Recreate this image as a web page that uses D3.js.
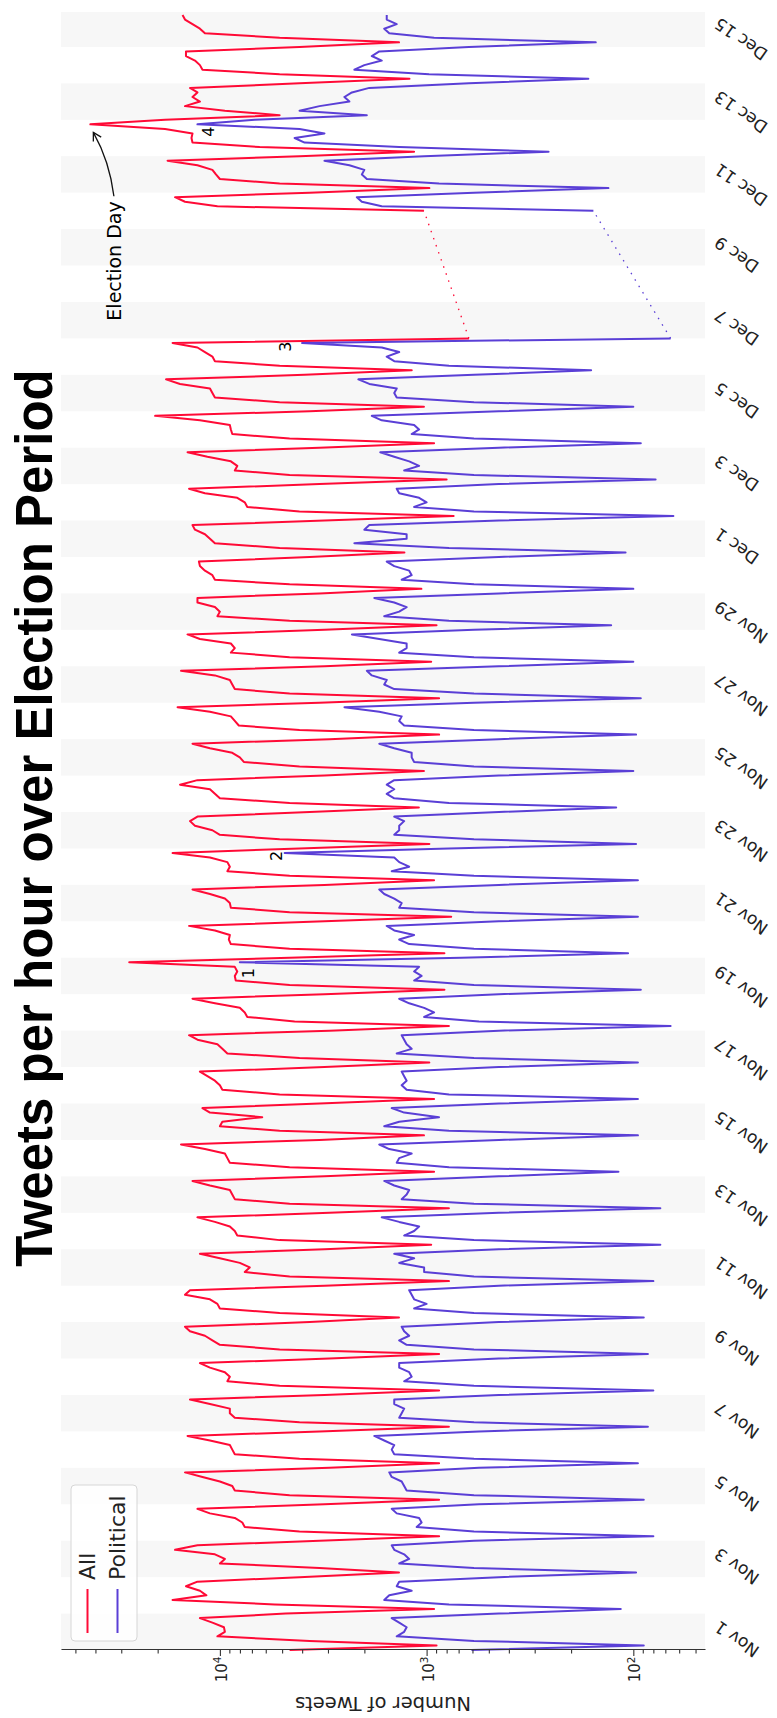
<!DOCTYPE html>
<html>
<head>
<meta charset="utf-8">
<script src="https://cdn.jsdelivr.net/npm/d3@7"></script>
<style>
  body { margin: 0; background: #fff; }
  svg { display: block; }
</style>
</head>
<body>
<svg id="chart"></svg>
<script>
// hourly tweet counts, sampled every 3 hours from Nov 1 00:00 (one row per day: 0h,3h,...,21h)
const allTweets = [
  4600, 895, 3680, 10280, 9460, 9560, 10870, 12490,      // Nov 1
  4810, 920, 5430, 16940, 11620, 12490, 14590, 12840,
  4120, 1360, 3300, 10000, 9460, 10570, 16480, 12840,
  3300, 870, 4120, 7580, 7790, 8470, 11170, 12840,
  3120, 870, 4600, 8470, 8710, 10000, 12140, 14750,      // Nov 5
  2950, 870, 4120, 8470, 8710, 8950, 11170, 14340,
  3300, 780, 4120, 8470, 8950, 8950, 11170, 13950,
  3120, 870, 5140, 9200, 8950, 9460, 11170, 12490,
  2950, 870, 5140, 10000, 10870, 11810, 13950, 14750,
  3680, 1360, 5140, 10000, 10280, 11170, 14750, 13950,   // Nov 10
  3120, 780, 4600, 7580, 7170, 8010, 10000, 12490,
  3120, 950, 5140, 8240, 8470, 8950, 10570, 12840,
  2950, 780, 4600, 8470, 8710, 8950, 11170, 13570,
  3120, 920, 4600, 8950, 9200, 9460, 11810, 15420,
  3300, 1030, 5140, 10000, 9730, 6240, 11170, 12140,     // Nov 15
  3300, 920, 5140, 9730, 10000, 10570, 11490, 12490,
  3120, 970, 4120, 9200, 9730, 10280, 12840, 14100,
  2950, 780, 4350, 7370, 7580, 8010, 10570, 13570,
  3120, 820, 4600, 8380, 8470, 8240, 8470, 27450,
  4600, 820, 4600, 8850, 9050, 8950, 10570, 14100,       // Nov 20
  3120, 760, 4600, 8850, 8950, 9460, 11170, 13570,
  3120, 920, 4600, 9200, 8950, 9200, 11170, 16940,
  4120, 970, 5140, 10000, 10870, 13200, 13950, 12840,
  3680, 1090, 4600, 10000, 10570, 11170, 15590, 12840,
  3120, 1030, 4120, 7660, 8010, 8710, 11170, 13570,      // Nov 25
  2950, 870, 4120, 8100, 8470, 8850, 11170, 16030,
  3300, 870, 4600, 8470, 8710, 8950, 10570, 15420,
  3120, 950, 4600, 8850, 8470, 8850, 12490, 14340,
  3120, 895, 4600, 10280, 10000, 10570, 12840, 12840,
  3300, 1060, 4600, 10570, 10870, 11810, 12490, 12630,   // Nov 30
  3680, 1280, 5140, 10570, 11170, 11810, 13200, 13570,   // Dec 1
  3120, 740, 4120, 7370, 7580, 8240, 11810, 14100,
  3300, 800, 4600, 8470, 8240, 8850, 11490, 14340,
  3300, 920, 4600, 8710, 8850, 8950, 12490, 20570,
  3680, 1030, 5140, 10570, 10870, 11170, 15590, 18210,   // Dec 5
  3890, 1180, 5140, 10570, 10870, 11810, 12840, 16940,
  624, null, null, null, null, null, null, null,         // Dec 7
  null, null, null, null, null, null, null, null,
  null, null, null, null, null, null, null, null,
  null, null, null, null, 1030, 10280, 14750, 16480,     // Dec 10
  3680, 970, 5140, 10000, 10450, 10870, 12840, 17910,
  4120, 1150, 6420, 13570, 13720, 13570, 18420, 42330,   // Dec 12
  18420, 5140, 9460, 14750, 12490, 13570, 12840, 13950,
  4120, 1210, 5140, 12140, 12490, 13200, 14590, 14590,
  4120, 1360, 5140, 11810, 12490, 13570, 14750, 15160    // Dec 15
];

const politicalTweets = [
  607, 89, 590, 1395, 1284, 1249, 1357, 1475,            // Nov 1
  447, 115, 779, 1603, 1516, 1181, 1395, 1357,
  447, 97, 590, 1357, 1214, 1284, 1434, 1475,
  590, 80, 590, 1117, 1057, 1087, 1395, 1475,
  558, 89, 590, 1249, 1284, 1320, 1475, 1516,            // Nov 5
  558, 95, 590, 1434, 1475, 1434, 1603, 1791,
  558, 85, 590, 1357, 1320, 1284, 1434, 1434,
  447, 80, 590, 1284, 1181, 1214, 1357, 1357,
  447, 85, 590, 1249, 1357, 1214, 1284, 1320,
  447, 89, 590, 1149, 1000, 1149, 1181, 1214,            // Nov 10
  447, 80, 590, 1028, 1028, 1357, 1149, 1434,
  447, 74, 590, 1284, 1149, 1087, 1357, 1648,
  447, 74, 590, 1320, 1249, 1214, 1434, 1603,
  447, 118, 779, 1395, 1357, 1181, 1516, 1694,
  447, 95, 779, 1603, 1357, 871, 1284, 1475,             // Nov 15
  447, 95, 779, 1249, 1320, 1249, 1284, 1320,
  447, 95, 590, 1395, 1181, 1249, 1284, 1320,
  447, 66, 558, 1028, 920, 1028, 1214, 1357,
  447, 92, 590, 1149, 1057, 1149, 1087, 8010,
  678, 106, 590, 1214, 1357, 1149, 1434, 1559,           // Nov 20
  447, 95, 590, 1357, 1320, 1434, 1603, 1694,
  447, 95, 590, 1475, 1214, 1357, 1434, 4862,
  779, 97, 590, 1434, 1357, 1357, 1284, 1434,
  447, 121, 779, 1434, 1559, 1434, 1559, 1434,
  447, 100, 590, 1149, 1181, 1181, 1434, 1694,           // Nov 25
  447, 97, 590, 1284, 1357, 1320, 1694, 2498,
  590, 92, 590, 1434, 1603, 1559, 1841, 1946,
  447, 100, 590, 1357, 1249, 1249, 1694, 2298,
  590, 128, 779, 1603, 1357, 1249, 1434, 1791,
  447, 100, 590, 1320, 1181, 1214, 1434, 1559,           // Nov 30
  447, 109, 779, 2236, 1249, 1249, 2001, 1893,           // Dec 1
  447, 64, 590, 1149, 1000, 1087, 1357, 1395,
  447, 78, 590, 1284, 1087, 1214, 1434, 1676,
  447, 92, 590, 1181, 1087, 1149, 1648, 1841,
  447, 100, 590, 1395, 1434, 1395, 1893, 2138,           // Dec 5
  590, 160, 779, 1434, 1559, 1357, 1648, 4004,
  66, null, null, null, null, null, null, null,          // Dec 7
  null, null, null, null, null, null, null, null,
  null, null, null, null, null, null, null, null,
  null, null, null, null, 156, 1648, 2057, 2175,         // Dec 10
  590, 132, 871, 1946, 2057, 2001, 2363, 3119,
  1028, 257, 1357, 3894, 4350, 3119, 4117, 12840,        // Dec 12
  6783, 1946, 4117, 3298, 2363, 2498, 2298, 1893,
  624, 165, 973, 2236, 2001, 1648, 1841, 1694,
  624, 152, 920, 1516, 1603, 1395, 1559, 1559            // Dec 15
];

const seriesNames = ["All", "Political"];
const seriesColors = ["#ff0a36", "#5a3fd6"];
const dateLabels = ["Nov 1", "Nov 3", "Nov 5", "Nov 7", "Nov 9", "Nov 11", "Nov 13", "Nov 15",
  "Nov 17", "Nov 19", "Nov 21", "Nov 23", "Nov 25", "Nov 27", "Nov 29",
  "Dec 1", "Dec 3", "Dec 5", "Dec 7", "Dec 9", "Dec 11", "Dec 13", "Dec 15"];
const valueTicks = [100, 1000, 10000];
const tickExponents = ["2", "3", "4"];

// numbered markers (text position in data coords)
const noteLabels = ["1", "2", "3", "4"];
const noteTimes = ["2019-11-19 13:48", "2019-11-22 19:06", "2019-12-06 18:37", "2019-12-12 16:16"];
const noteValues = [7280, 5360, 4850, 11390];

const parseTime = d3.timeParse("%Y-%m-%d %H:%M");
const parseLabel = d3.timeParse("%b %d %Y");
const start = parseTime("2019-11-01 00:00");
const end = parseTime("2019-12-15 23:00");

const W = 1718, H = 777;
const plot = { left: 68, right: 1706, top: 61, bottom: 705 };

const svg = d3.select("#chart").attr("width", H).attr("height", W);
// chart drawn landscape, then turned a quarter turn counter-clockwise
const g = svg.append("g").attr("transform", `translate(0,${W}) rotate(-90)`);

const x = d3.scaleTime().domain([start, end]).range([plot.left, plot.right]);
const y = d3.scaleLog().domain([45, 58700]).range([plot.bottom, plot.top]);

const times = allTweets.map((d, i) => d3.timeHour.offset(start, i * 3));

// alternating day bands
const days = d3.timeDay.range(start, d3.timeDay.offset(end, 1)).filter((d, i) => i % 2 === 0);
g.append("g").selectAll("rect")
  .data(days)
  .enter().append("rect")
    .attr("x", d => x(d))
    .attr("width", d => Math.min(x(d3.timeDay.offset(d, 1)), plot.right) - x(d))
    .attr("y", plot.top)
    .attr("height", plot.bottom - plot.top)
    .attr("fill", "#f7f7f7");

// series
const series = [allTweets, politicalTweets].map((vals, k) => ({
  name: seriesNames[k],
  color: seriesColors[k],
  points: vals.map((v, i) => ({ t: times[i], v: v }))
}));

const line = d3.line()
  .defined(d => d.v != null)
  .x(d => x(d.t))
  .y(d => y(d.v));

series.forEach(s => {
  // dotted bridge over the missing days
  const pts = s.points;
  const gapStart = pts.findIndex((d, i) => d.v != null && i + 1 < pts.length && pts[i + 1].v == null);
  const gapEnd = pts.findIndex((d, i) => i > gapStart && d.v != null);
  g.append("path")
    .datum([pts[gapStart], pts[gapEnd]])
    .attr("d", line)
    .attr("fill", "none")
    .attr("stroke", s.color)
    .attr("stroke-width", 1.3)
    .attr("stroke-dasharray", "1.5,6");

  g.append("path")
    .datum(pts)
    .attr("d", line)
    .attr("fill", "none")
    .attr("stroke", s.color)
    .attr("stroke-width", 2)
    .attr("stroke-linejoin", "round");
});

// value axis (log)
const minorTicks = [];
[10, 100, 1000, 10000].forEach(p => d3.range(2, 10).forEach(k => {
  const v = k * p;
  if (v > y.domain()[0] && v < y.domain()[1]) minorTicks.push(v);
}));

const yAxis = g.append("g").attr("transform", `translate(${plot.left},0)`);
yAxis.call(d3.axisLeft(y).tickValues(valueTicks).tickSize(6).tickSizeOuter(0).tickFormat(() => ""));
yAxis.append("g").call(d3.axisLeft(y).tickValues(minorTicks).tickSize(3.5).tickSizeOuter(0).tickFormat(() => ""))
  .select(".domain").remove();
yAxis.selectAll("path, line").attr("stroke", "#333").attr("stroke-width", 1.1);

const tickText = yAxis.selectAll(".major-label")
  .data(valueTicks)
  .enter().append("text")
    .attr("x", -6.5)
    .attr("y", d => y(d) + 7)
    .attr("text-anchor", "end")
    .attr("fill", "#222")
    .style("font", "15px 'DejaVu Sans'");
tickText.append("tspan").text("10");
tickText.append("tspan")
  .attr("dy", "-0.55em")
  .style("font-size", "10.5px")
  .text((d, i) => tickExponents[i]);

g.append("text")
  .attr("transform", `translate(21,${(plot.top + plot.bottom) / 2}) rotate(-90)`)
  .attr("text-anchor", "middle")
  .attr("fill", "#222")
  .style("font", "19.5px 'DejaVu Sans'")
  .text("Number of Tweets");

// date labels
g.append("g").selectAll("text")
  .data(dateLabels)
  .enter().append("text")
    .attr("transform", d => `translate(${x(parseLabel(d + " 2019")) + 30},720) rotate(-55)`)
    .attr("text-anchor", "end")
    .attr("fill", "#222")
    .style("font", "17px 'DejaVu Sans'")
    .text(d => d);

// title
g.append("text")
  .attr("x", 900)
  .attr("y", 52)
  .attr("text-anchor", "middle")
  .style("font", "bold 51px 'Liberation Sans'")
  .text("Tweets per hour over Election Period");

// numbered markers
g.append("g").selectAll("text")
  .data(noteLabels)
  .enter().append("text")
    .attr("x", (d, i) => x(parseTime(noteTimes[i])))
    .attr("y", (d, i) => y(noteValues[i]))
    .attr("dy", "0.36em")
    .attr("text-anchor", "middle")
    .style("font", "16px 'DejaVu Sans'")
    .text(d => d);

// election day annotation
const peakIdx = allTweets.indexOf(d3.max(allTweets));
const peak = [x(times[peakIdx]), y(allTweets[peakIdx])];
const noteText = g.append("text")
  .attr("x", x(parseTime("2019-12-09 03:00")))
  .attr("y", y(32500))
  .attr("dy", "0.36em")
  .attr("text-anchor", "middle")
  .style("font", "19px 'DejaVu Sans'")
  .text("Election Day");
const tb = noteText.node().getBBox();
const a0 = [tb.x + tb.width + 5, tb.y + tb.height / 2];
const a1 = [peak[0] - 8, peak[1] + 3];
const ctrl = [(a0[0] + a1[0]) / 2 + 3, (a0[1] + a1[1]) / 2 + 6];

svg.append("defs").append("marker")
  .attr("id", "arrow")
  .attr("viewBox", "-10 -6 12 12")
  .attr("markerWidth", 12)
  .attr("markerHeight", 12)
  .attr("markerUnits", "userSpaceOnUse")
  .attr("orient", "auto")
  .append("path")
    .attr("d", "M-8,-4.5 L0,0 L-8,4.5")
    .attr("fill", "none")
    .attr("stroke", "#111")
    .attr("stroke-width", 1.3);

g.append("path")
  .attr("d", `M${a0[0]},${a0[1]} Q${ctrl[0]},${ctrl[1]} ${a1[0]},${a1[1]}`)
  .attr("fill", "none")
  .attr("stroke", "#111")
  .attr("stroke-width", 1.3)
  .attr("marker-end", "url(#arrow)");

// legend
const legend = g.append("g").attr("transform", "translate(77,71)");
legend.append("rect")
  .attr("width", 156)
  .attr("height", 66)
  .attr("rx", 4)
  .attr("fill", "#fff")
  .attr("fill-opacity", 0.85)
  .attr("stroke", "#d6d6d6");
const items = legend.selectAll(".item")
  .data(series)
  .enter().append("g")
    .attr("transform", (d, i) => `translate(0,${16.5 + i * 30})`);
items.append("line")
  .attr("x1", 8).attr("x2", 52)
  .attr("stroke", d => d.color)
  .attr("stroke-width", 2);
items.append("text")
  .attr("x", 61)
  .attr("dy", "0.36em")
  .attr("fill", "#222")
  .style("font", "22px 'DejaVu Sans'")
  .text(d => d.name);
</script>
</body>
</html>
